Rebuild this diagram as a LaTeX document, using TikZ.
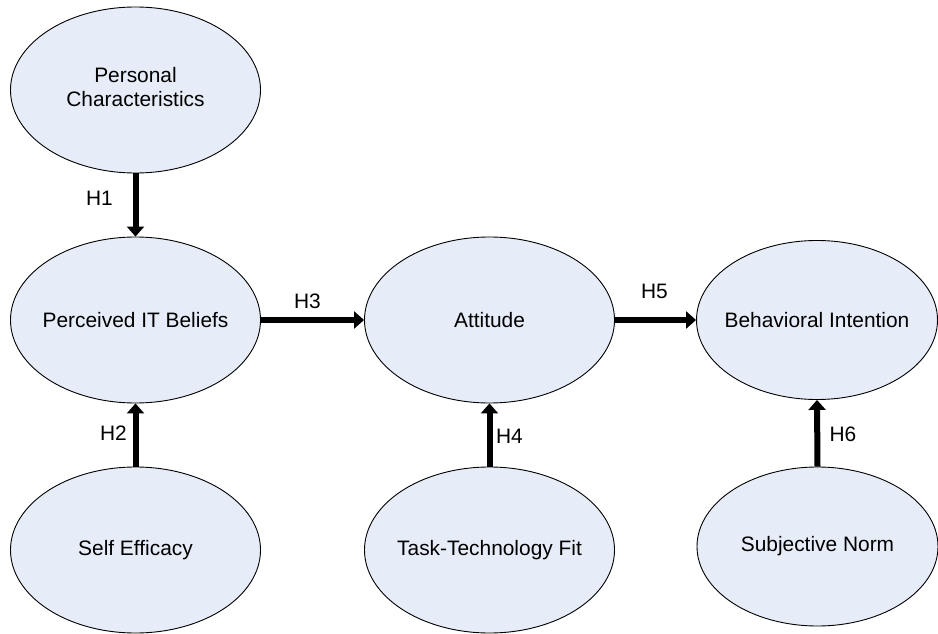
\documentclass[tikz,border=0pt]{standalone}
\usepackage{fontspec}
\setmainfont{Liberation Sans}
\usetikzlibrary{arrows.meta,shapes.geometric}
\definecolor{ellfill}{RGB}{231,237,248}
\tikzset{
  construct/.style={ellipse, draw=black, line width=0.9pt, fill=ellfill, inner sep=0pt,
    minimum width=250pt, minimum height=166pt,
    font=\fontsize{20.9}{23.5}\selectfont},
  smallell/.style={construct, minimum width=241pt, minimum height=159pt},
  hyp/.style={line width=6pt, -{Triangle[length=10pt,width=17pt]}},
  hlabel/.style={anchor=base, inner sep=0pt, font=\fontsize{20.9}{23.5}\selectfont}
}
\begin{document}
\begin{tikzpicture}[x=1pt,y=-1pt]
\useasboundingbox (0,0) rectangle (938,634);
\node[construct] (pc) at (135.5,90) {\makebox[0pt]{\begin{tabular}{@{}c@{}}Personal\\Characteristics\end{tabular}}};
\node[construct] (pib) at (135.5,320) {\makebox[0pt]{Perceived IT Beliefs}};
\node[construct] (att) at (489.5,320) {\makebox[0pt]{Attitude}};
\node[smallell] (bi) at (817,320) {\makebox[0pt]{Behavioral Intention}};
\node[construct] (se) at (135.5,550) {\makebox[0pt]{Self Efficacy}};
\node[construct] (ttf) at (489.5,550) {\makebox[0pt]{Task-Technology Fit}};
\node[smallell] (sn) at (817.5,546.5) {\makebox[0pt]{Subjective Norm}};

\draw[hyp] (pc.south) -- (pib.north);
\draw[hyp] (se.north) -- (pib.south);
\draw[hyp] (pib.east) -- (att.west);
\draw[hyp] (ttf.north) -- (att.south);
\draw[hyp] (att.east) -- (bi.west);
\draw[hyp] (sn.north) -- (bi.south);

\node[hlabel] (h1) at (99.5,205) {H1};
\node[hlabel] (h2) at (113.5,440) {H2};
\node[hlabel] (h3) at (307.5,308) {H3};
\node[hlabel] (h4) at (509.5,443) {H4};
\node[hlabel] (h5) at (654.5,298) {H5};
\node[hlabel] (h6) at (843,441) {H6};
\end{tikzpicture}
\end{document}
